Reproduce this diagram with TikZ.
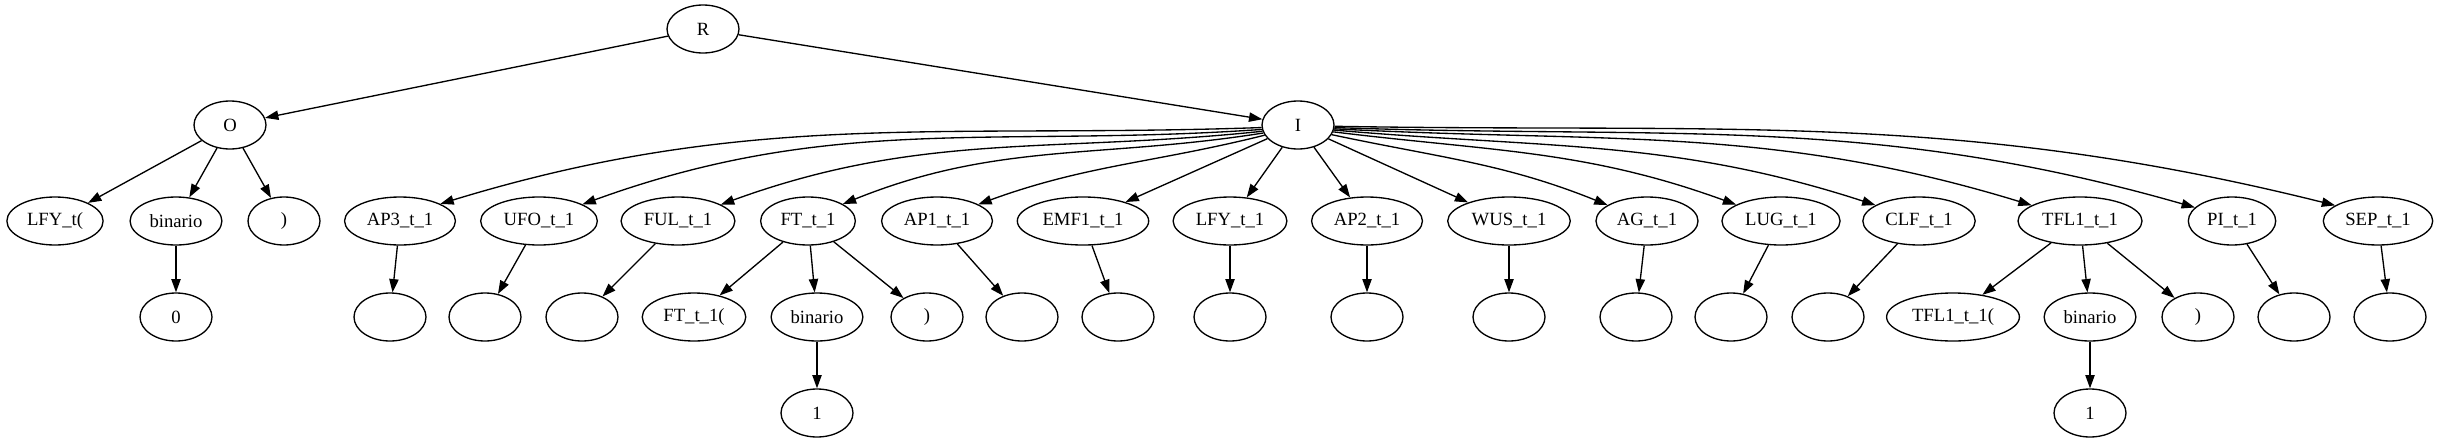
\documentclass[tikz,border=0pt]{standalone}
\usepackage{fontspec}
\setmainfont{Liberation Serif}
\usetikzlibrary{shapes.geometric,arrows.meta}

\begin{document}
\begin{tikzpicture}[x=0.75pt, y=0.75pt,
    tnode/.style={draw, ellipse, line width=1pt, minimum width=54pt, minimum height=36pt,
                  inner xsep=4.5pt, inner ysep=2pt, font=\fontsize{14}{16}\selectfont},
    link/.style={-{Triangle[length=10pt,width=7pt]}, line width=1pt}]
  \useasboundingbox (0,0) rectangle (2441,-443);

  % levels of the tree
  \def\la{-29}
  \def\lb{-125}
  \def\lc{-221}
  \def\ld{-317}
  \def\le{-413}

  % root and its two children
  \node[tnode] (R) at (703,\la) {R};
  \node[tnode] (O) at (230,\lb) {O};
  \node[tnode] (I) at (1298,\lb) {I};
  \draw[link] (R) -- (O);
  \draw[link] (R) -- (I);

  % subtree of O
  \node[tnode] (LFYo) at (55,\lc) {LFY\_t(};
  \node[tnode] (binO) at (176,\lc) {binario};
  \node[tnode] (parO) at (284,\lc) {)};
  \node[tnode] (zero) at (176,\ld) {0};
  \draw[link] (O) -- (LFYo);
  \draw[link] (O) -- (binO);
  \draw[link] (O) -- (parO);
  \draw[link] (binO) -- (zero);

  % children of I
  \node[tnode] (AP3) at (400,\lc) {AP3\_t\_1};
  \node[tnode] (UFO) at (539,\lc) {UFO\_t\_1};
  \node[tnode] (FUL) at (678,\lc) {FUL\_t\_1};
  \node[tnode] (FT) at (808,\lc) {FT\_t\_1};
  \node[tnode] (AP1) at (937,\lc) {AP1\_t\_1};
  \node[tnode] (EMF1) at (1083,\lc) {EMF1\_t\_1};
  \node[tnode] (LFY) at (1230,\lc) {LFY\_t\_1};
  \node[tnode] (AP2) at (1367,\lc) {AP2\_t\_1};
  \node[tnode] (WUS) at (1509,\lc) {WUS\_t\_1};
  \node[tnode] (AG) at (1647,\lc) {AG\_t\_1};
  \node[tnode] (LUG) at (1781,\lc) {LUG\_t\_1};
  \node[tnode] (CLF) at (1919,\lc) {CLF\_t\_1};
  \node[tnode] (TFL1) at (2080,\lc) {TFL1\_t\_1};
  \node[tnode] (PI) at (2232,\lc) {PI\_t\_1};
  \node[tnode] (SEP) at (2378,\lc) {SEP\_t\_1};

  % curved edges: child/start/out/in/end
  \foreach \n/\s/\o/\i/\e in {AP3/184/182/17/23, UFO/187/184/20/21, FUL/190/186/20/21,
      FT/193/189/22/26, AP1/197/194/20/22,
      AG/-16/-12/158/158, LUG/-11/-7/160/160, CLF/-8/-5/162/160,
      TFL1/-6/-3/163/162, PI/-4/-2/164/160, SEP/-2/-1/166/160}
    \draw[link] (I.\s) to[out=\o,in=\i] (\n.\e);
  % straight edges
  \foreach \n in {EMF1, LFY, AP2, WUS}
    \draw[link] (I) -- (\n);

  % empty leaves
  \foreach \n/\x in {AP3/390, UFO/485, FUL/582, AP1/1022, EMF1/1118, LFY/1230,
      AP2/1367, WUS/1509, AG/1636, LUG/1731, CLF/1828, PI/2294, SEP/2390} {
    \node[tnode] (\n c) at (\x,\ld) {};
    \draw[link] (\n) -- (\n c);
  }

  % subtree of FT_t_1
  \node[tnode] (FTa) at (694,\ld) {FT\_t\_1(};
  \node[tnode] (FTbin) at (817,\ld) {binario};
  \node[tnode] (FTpar) at (927,\ld) {)};
  \node[tnode] (FTone) at (817,\le) {1};
  \draw[link] (FT) -- (FTa);
  \draw[link] (FT) -- (FTbin);
  \draw[link] (FT) -- (FTpar);
  \draw[link] (FTbin) -- (FTone);

  % subtree of TFL1_t_1
  \node[tnode] (TFLa) at (1953,\ld) {TFL1\_t\_1(};
  \node[tnode] (TFLbin) at (2090,\ld) {binario};
  \node[tnode] (TFLpar) at (2198,\ld) {)};
  \node[tnode] (TFLone) at (2090,\le) {1};
  \draw[link] (TFL1) -- (TFLa);
  \draw[link] (TFL1) -- (TFLbin);
  \draw[link] (TFL1) -- (TFLpar);
  \draw[link] (TFLbin) -- (TFLone);
\end{tikzpicture}
\end{document}
